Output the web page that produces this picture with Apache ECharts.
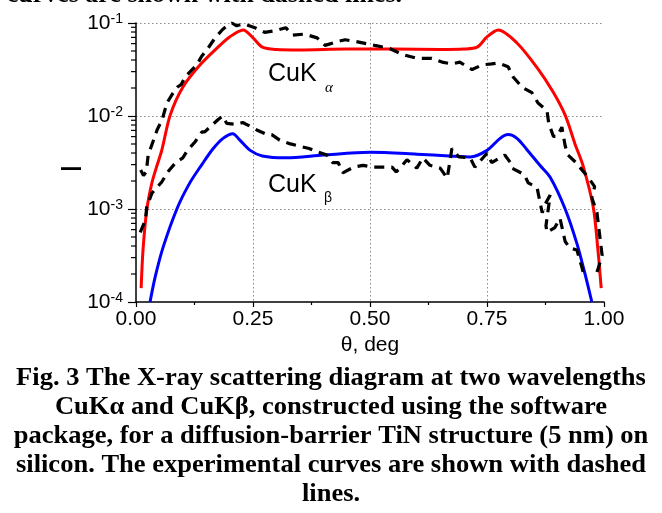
<!DOCTYPE html>
<html>
<head>
<meta charset="utf-8">
<script src="https://cdn.jsdelivr.net/npm/echarts@6/dist/echarts.min.js"></script>
<style>
html, body { margin: 0; padding: 0; background: #fff; }
#main { width: 662px; height: 513px; }
</style>
</head>
<body>
<div id="main"></div>
<script>
// calculated CuK-alpha curve (red)
const alphaTheta = [0.011, 0.015, 0.023, 0.034, 0.045, 0.055, 0.073, 0.10, 0.137, 0.173, 0.20, 0.229, 0.25, 0.27, 0.30, 0.35, 0.45, 0.55, 0.65, 0.70, 0.729, 0.75, 0.774, 0.814, 0.857, 0.891, 0.917, 0.938, 0.955, 0.977, 0.987, 0.994];
const alphaCalc = [1.41e-4, 3.63e-4, 9.77e-4, 1.91e-3, 2.95e-3, 4.27e-3, 1.02e-2, 2.04e-2, 3.55e-2, 5.37e-2, 7.08e-2, 8.41e-2, 6.92e-2, 5.50e-2, 5.19e-2, 5.13e-2, 5.25e-2, 5.25e-2, 5.19e-2, 5.25e-2, 5.50e-2, 7.08e-2, 8.41e-2, 6.10e-2, 3.31e-2, 1.82e-2, 1.02e-2, 5.01e-3, 2.95e-3, 1.05e-3, 3.63e-4, 1.41e-4];

// calculated CuK-beta curve (blue)
const betaTheta = [0.030, 0.041, 0.058, 0.088, 0.115, 0.141, 0.165, 0.186, 0.207, 0.222, 0.244, 0.27, 0.32, 0.40, 0.50, 0.60, 0.67, 0.714, 0.75, 0.778, 0.795, 0.814, 0.835, 0.863, 0.885, 0.917, 0.942, 0.959, 0.974];
const betaCalc = [1.0e-4, 1.86e-4, 3.89e-4, 1.02e-3, 1.91e-3, 3.02e-3, 4.47e-3, 5.75e-3, 6.46e-3, 5.50e-3, 4.27e-3, 3.72e-3, 3.55e-3, 3.80e-3, 4.07e-3, 3.89e-3, 3.72e-3, 3.63e-3, 4.27e-3, 5.75e-3, 6.31e-3, 5.75e-3, 4.37e-3, 2.95e-3, 2.19e-3, 1.0e-3, 4.27e-4, 2.04e-4, 1.0e-4];

// experimental CuK-alpha (upper dashed)
const alphaExpTheta = [0.010, 0.016, 0.022, 0.026, 0.036, 0.045, 0.056, 0.066, 0.077, 0.088, 0.097, 0.105, 0.13, 0.14, 0.154, 0.169, 0.185, 0.197, 0.205, 0.215, 0.23, 0.254, 0.275, 0.30, 0.32, 0.335, 0.36, 0.387, 0.404, 0.43, 0.447, 0.47, 0.51, 0.54, 0.57, 0.60, 0.632, 0.654, 0.675, 0.692, 0.707, 0.718, 0.74, 0.76, 0.774, 0.795, 0.806, 0.825, 0.846, 0.859, 0.878, 0.882, 0.892, 0.900, 0.910, 0.917, 0.923, 0.940, 0.953, 0.966, 0.980, 0.974, 0.985, 0.990, 0.996, 0.987, 0.980];
const alphaExp = [2.63e-3, 2.29e-3, 2.51e-3, 3.80e-3, 5.25e-3, 7.08e-3, 9.12e-3, 1.38e-2, 1.70e-2, 2.04e-2, 2.19e-2, 2.63e-2, 3.55e-2, 4.37e-2, 5.37e-2, 6.92e-2, 8.51e-2, 9.55e-2, 1.0e-1, 9.33e-2, 9.77e-2, 8.91e-2, 7.94e-2, 8.32e-2, 8.91e-2, 7.41e-2, 7.59e-2, 6.92e-2, 5.75e-2, 6.31e-2, 6.61e-2, 6.31e-2, 5.75e-2, 5.37e-2, 4.57e-2, 4.17e-2, 4.17e-2, 3.80e-2, 3.63e-2, 3.80e-2, 3.39e-2, 3.16e-2, 3.55e-2, 3.63e-2, 3.72e-2, 3.39e-2, 2.63e-2, 2.04e-2, 1.78e-2, 1.38e-2, 1.15e-2, 8.32e-3, 6.03e-3, 6.03e-3, 7.59e-3, 4.79e-3, 3.80e-3, 3.16e-3, 2.63e-3, 2.19e-3, 1.74e-3, 1.32e-3, 9.12e-4, 5.62e-4, 3.16e-4, 2.24e-4, 1.82e-4];

// experimental CuK-beta (lower dashed)
const betaExpTheta = [0.009, 0.020, 0.023, 0.034, 0.055, 0.068, 0.085, 0.10, 0.11, 0.126, 0.141, 0.147, 0.162, 0.175, 0.185, 0.194, 0.216, 0.228, 0.24, 0.258, 0.28, 0.29, 0.307, 0.33, 0.37, 0.39, 0.408, 0.42, 0.432, 0.442, 0.465, 0.485, 0.506, 0.547, 0.556, 0.564, 0.579, 0.60, 0.613, 0.628, 0.65, 0.665, 0.675, 0.69, 0.714, 0.724, 0.75, 0.76, 0.788, 0.80, 0.803, 0.83, 0.838, 0.857, 0.863, 0.868, 0.874, 0.885, 0.876, 0.878, 0.895, 0.906, 0.917, 0.927, 0.942, 0.953, 0.958];
const betaExp = [5.62e-4, 7.59e-4, 1.05e-3, 1.48e-3, 1.95e-3, 2.51e-3, 3.16e-3, 3.55e-3, 4.27e-3, 5.25e-3, 6.76e-3, 6.76e-3, 7.94e-3, 9.12e-3, 1.0e-2, 8.32e-3, 8.13e-3, 8.51e-3, 7.94e-3, 7.08e-3, 6.31e-3, 6.31e-3, 5.50e-3, 5.01e-3, 4.47e-3, 4.07e-3, 3.80e-3, 3.16e-3, 3.16e-3, 2.45e-3, 2.82e-3, 2.95e-3, 2.82e-3, 2.82e-3, 2.51e-3, 2.75e-3, 3.39e-3, 2.75e-3, 3.55e-3, 2.95e-3, 2.75e-3, 2.14e-3, 4.47e-3, 3.63e-3, 3.55e-3, 2.82e-3, 3.98e-3, 3.16e-3, 3.80e-3, 3.16e-3, 2.75e-3, 2.34e-3, 1.91e-3, 1.70e-3, 1.20e-3, 9.12e-4, 1.12e-3, 1.41e-3, 6.61e-4, 5.62e-4, 6.31e-4, 7.94e-4, 4.47e-4, 3.80e-4, 3.63e-4, 2.34e-4, 1.86e-4];

// log-axis minor tick values (2..9 per decade)
const yMinorTicks = [2e-4, 3e-4, 4e-4, 5e-4, 6e-4, 7e-4, 8e-4, 9e-4, 2e-3, 3e-3, 4e-3, 5e-3, 6e-3, 7e-3, 8e-3, 9e-3, 2e-2, 3e-2, 4e-2, 5e-2, 6e-2, 7e-2, 8e-2, 9e-2];

const captionLines = [
  'Fig. 3 The X-ray scattering diagram at two wavelengths',
  'CuKα and CuKβ, constructed using the software',
  'package, for a diffusion-barrier TiN structure (5 nm) on',
  'silicon. The experimental curves are shown with dashed',
  'lines.'
];

function pairs(xs, ys) {
  return xs.map((x, i) => [x, ys[i]]);
}

const sans = '"Liberation Sans", Arial, sans-serif';
const serif = '"Liberation Serif", "Times New Roman", serif';

let myChart = echarts.init(document.getElementById('main'), null, {renderer: 'canvas'});

let graphics = [
  {
    type: 'text', x: 402, y: -5,
    style: {text: 'curves are shown with dashed lines.', font: 'bold 26px ' + serif, fill: '#000', textAlign: 'right', textVerticalAlign: 'middle'}
  },
  {type: 'text', x: 268, y: 74, style: {text: 'CuK', font: '25px ' + sans, fill: '#000', textVerticalAlign: 'middle'}},
  {type: 'text', x: 325, y: 88, style: {text: 'α', font: 'italic 15px ' + serif, fill: '#000', textVerticalAlign: 'middle'}},
  {type: 'text', x: 268, y: 185, style: {text: 'CuK', font: '25px ' + sans, fill: '#000', textVerticalAlign: 'middle'}},
  {type: 'text', x: 324, y: 198, style: {text: 'β', font: '14px ' + sans, fill: '#000', textVerticalAlign: 'middle'}}
];
captionLines.forEach((line, i) => {
  graphics.push({
    type: 'text', x: 331, y: 378 + i * 29, scaleX: 1.02,
    style: {text: line, font: 'bold 26px ' + serif, fill: '#000', textAlign: 'center', textVerticalAlign: 'middle'}
  });
});

myChart.setOption({
  animation: false,
  backgroundColor: '#fff',
  grid: {left: 136, top: 23, right: 58, bottom: 211, containLabel: false, outerBoundsMode: 'none'},
  xAxis: {
    type: 'value',
    min: 0,
    max: 1,
    interval: 0.25,
    name: 'θ, deg',
    nameLocation: 'middle',
    nameGap: 29,
    nameTextStyle: {fontFamily: sans, fontSize: 21, color: '#000'},
    axisLine: {lineStyle: {color: '#000', width: 1.5}},
    axisTick: {show: true, inside: false, length: 5, lineStyle: {color: '#000', width: 1.2}},
    minorTick: {show: true, splitNumber: 2, length: 3, lineStyle: {color: '#000', width: 1.2}},
    axisLabel: {
      margin: 7,
      fontFamily: sans,
      fontSize: 21,
      color: '#000',
      formatter: v => v.toFixed(2)
    },
    splitLine: {
      show: true,
      showMinLine: false,
      showMaxLine: false,
      lineStyle: {color: '#888', width: 1, type: [1.5, 2.5]}
    }
  },
  yAxis: {
    type: 'log',
    logBase: 10,
    min: 1e-4,
    max: 1e-1,
    name: 'I',
    nameLocation: 'middle',
    nameRotate: 90,
    nameGap: 48,
    nameMoveOverlap: false,
    nameTextStyle: {fontFamily: sans, fontSize: 30, color: '#000', padding: [0, 12, 0, 0]},
    axisLine: {show: true, lineStyle: {color: '#000', width: 1.5}},
    axisTick: {show: true, inside: false, length: 8, lineStyle: {color: '#000', width: 1.2}},
    axisLabel: {
      margin: 13,
      color: '#000',
      formatter: function (v) {
        return '{b|10}{s|' + Math.round(Math.log10(v)) + '}';
      },
      rich: {
        b: {fontFamily: sans, fontSize: 21, color: '#000', lineHeight: 22},
        s: {fontFamily: sans, fontSize: 14, color: '#000', verticalAlign: 'top', lineHeight: 22}
      }
    },
    splitLine: {
      show: true,
      showMinLine: false,
      showMaxLine: false,
      lineStyle: {color: '#888', width: 1, type: [1.5, 2.5]}
    }
  },
  graphic: graphics,
  series: [
    {
      name: 'CuKa calc',
      type: 'line',
      data: pairs(alphaTheta, alphaCalc),
      showSymbol: false,
      smooth: 0.3,
      lineStyle: {color: '#ff0000', width: 3},
      z: 3
    },
    {
      name: 'CuKb calc',
      type: 'line',
      data: pairs(betaTheta, betaCalc),
      showSymbol: false,
      smooth: 0.3,
      lineStyle: {color: '#0000ff', width: 3},
      z: 3
    },
    {
      name: 'CuKa exp',
      type: 'line',
      data: pairs(alphaExpTheta, alphaExp),
      showSymbol: false,
      lineStyle: {color: '#000', width: 3.2, type: [10, 7]},
      z: 4
    },
    {
      name: 'CuKb exp',
      type: 'line',
      data: pairs(betaExpTheta, betaExp),
      showSymbol: false,
      lineStyle: {color: '#000', width: 3.2, type: [10, 7]},
      z: 4
    },
    {
      name: 'minor ticks',
      type: 'custom',
      data: yMinorTicks.map(v => [0, v]),
      clip: false,
      silent: true,
      z: 5,
      renderItem: function (params, api) {
        const p = api.coord([api.value(0), api.value(1)]);
        return {
          type: 'line',
          shape: {x1: p[0] - 5, y1: p[1], x2: p[0], y2: p[1]},
          style: {stroke: '#000', lineWidth: 1.2}
        };
      }
    }
  ]
});
</script>
</body>
</html>
